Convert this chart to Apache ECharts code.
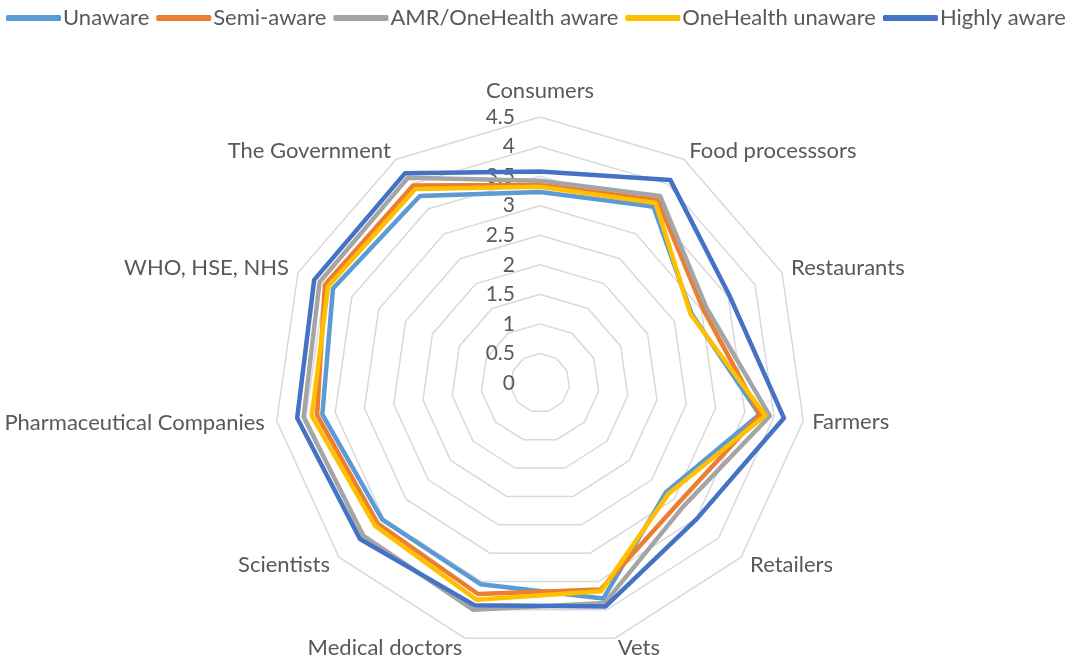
<!DOCTYPE html>
<html>
<head>
<meta charset="utf-8">
<script src="https://cdn.jsdelivr.net/npm/echarts@6/dist/echarts.min.js"></script>
<style>
  html, body { margin: 0; padding: 0; background: #fff; }
  #chart { width: 1084px; height: 660px; }
</style>
</head>
<body>
<div id="chart"></div>
<script>
// categories, clockwise from the top
const categories = ['Consumers', 'Food processsors', 'Restaurants', 'Farmers', 'Retailers', 'Vets',
  'Medical doctors', 'Scientists', 'Pharmaceutical Companies', 'WHO, HSE, NHS', 'The Government']
const seriesNames = ['Unaware', 'Semi-aware', 'AMR/OneHealth aware', 'OneHealth unaware', 'Highly aware']
const unaware = [3.23, 3.55, 2.82, 3.75, 2.82, 3.80, 3.55, 3.53, 3.72, 3.85, 3.76]
const semiAware = [3.35, 3.68, 3.03, 3.76, 3.10, 3.64, 3.72, 3.63, 3.81, 4.00, 3.97]
const amrAware = [3.42, 3.76, 3.09, 3.93, 3.20, 3.88, 4.00, 3.95, 4.04, 4.10, 4.13]
const ohUnaware = [3.32, 3.62, 2.80, 3.85, 2.87, 3.67, 3.82, 3.69, 3.90, 3.94, 3.90]
const highlyAware = [3.58, 4.08, 3.53, 4.17, 3.51, 3.94, 3.92, 4.03, 4.15, 4.20, 4.22]
const axisMin = 0
const axisMax = 4.5
const splitCount = 9

const colors = ['#5B9BD5', '#ED7D31', '#A5A5A5', '#FFC000', '#4472C4']
const font = 'Lato, "Open Sans", sans-serif'
// distance of each category name from the outer ring (same order as categories)
const nameGaps = [15, 10, 10, 9, 12, 10, 10, 12, 12, 10, 10]

// echarts radar runs counter-clockwise, so reverse everything after the first axis
const order = [0].concat(categories.map((_, i) => i).slice(1).reverse())

const indicator = order.map((i, k) => ({
  name: categories[i],
  min: axisMin,
  max: axisMax,
  nameGap: nameGaps[i],
  axisLabel: { show: k === 0 }
}))

const allValues = [unaware, semiAware, amrAware, ohUnaware, highlyAware]

const chart = echarts.init(document.getElementById('chart'), null, { renderer: 'canvas' })

chart.setOption({
  animation: false,
  color: colors,
  legend: {
    top: 2,
    left: 1,
    width: 1100,
    itemWidth: 55,
    itemHeight: 6,
    itemGap: 7,
    icon: 'roundRect',
    textStyle: { fontFamily: font, fontSize: 22, color: '#595959', padding: [0, 0, 0, -3] },
    data: seriesNames
  },
  radar: {
    center: [540, 383],
    radius: 266,
    startAngle: 90,
    shape: 'polygon',
    splitNumber: splitCount,
    nameGap: 10,
    axisName: { color: '#595959', fontFamily: font, fontSize: 22 },
    axisLine: { show: false },
    axisTick: { show: false },
    axisLabel: { show: false, color: '#595959', fontFamily: font, fontSize: 21, margin: 25 },
    splitLine: { lineStyle: { color: '#D9D9D9', width: 1.5 } },
    splitArea: { show: false },
    indicator: indicator
  },
  series: allValues.map((vals, s) => ({
    type: 'radar',
    name: seriesNames[s],
    symbol: 'none',
    lineStyle: { width: 4.5, color: colors[s] },
    itemStyle: { color: colors[s] },
    data: [{ name: seriesNames[s], value: order.map(i => vals[i]) }]
  }))
})
</script>
</body>
</html>
